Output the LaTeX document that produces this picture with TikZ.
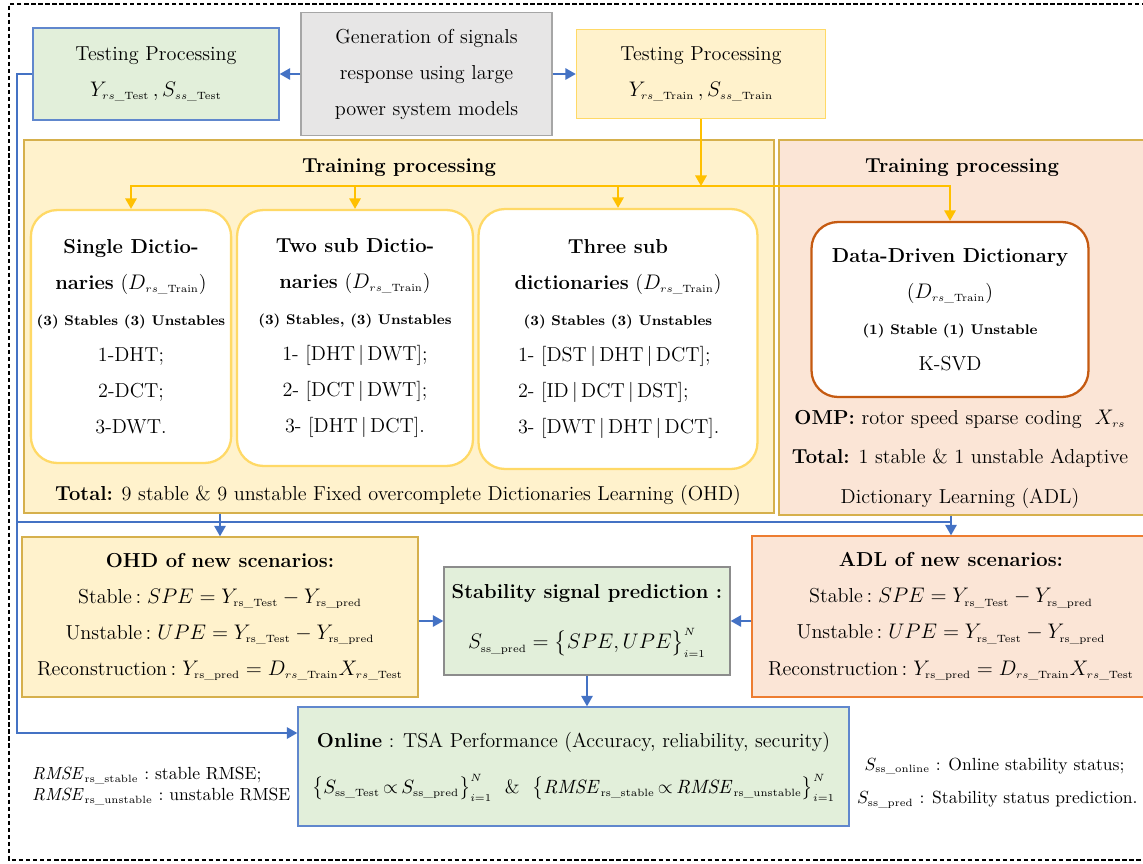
\documentclass[tikz,border=0pt]{standalone}
\usepackage{amsmath}
\usetikzlibrary{arrows.meta,positioning}
\usetikzlibrary{calc}

\definecolor{tsablue}{HTML}{4472C4}
\definecolor{tsagreen}{HTML}{E2EFDA}
\definecolor{srcfill}{HTML}{E7E6E6}
\definecolor{srcgrey}{HTML}{A6A6A6}
\definecolor{stabgrey}{HTML}{8C8C8C}
\definecolor{trainfill}{HTML}{FFF2CC}
\definecolor{trainedge}{HTML}{D6B04C}
\definecolor{testedge}{HTML}{FFD966}
\definecolor{busyellow}{HTML}{FFC000}
\definecolor{adlfill}{HTML}{FBE5D6}
\definecolor{adledge}{HTML}{ED7D31}
\definecolor{dddedge}{HTML}{C55A11}

% small scripts, as in the equation editor
\DeclareMathSizes{11.5}{11.5}{6.5}{5}
\DeclareMathSizes{11}{11}{6.5}{5}
\DeclareMathSizes{10}{10}{6}{5}

\newcommand{\Dtrain}{D_{rs\_\mathrm{Train}}}
\newcommand{\Ytest}{Y_{\mathrm{rs\_Test}}}
\newcommand{\Ypred}{Y_{\mathrm{rs\_pred}}}
\newcommand{\Xtest}{X_{rs\_\mathrm{Test}}}
\newcommand{\rmse}{\mathit{RMSE}}
\newcommand{\dictcount}[1]{{\fontsize{8}{10}\selectfont\bfseries #1}}

\begin{document}
\begin{tikzpicture}[
      x=0.02cm, y=-0.02cm,
      every node/.style={font=\fontsize{11.5}{20.5}\selectfont, align=center},
      flatbox/.style={draw, line width=0.8pt, inner sep=2pt},
      testbox/.style={flatbox, draw=tsablue!85, fill=tsagreen},
      srcbox/.style={flatbox, draw=srcgrey, fill=srcfill},
      trainbox/.style={flatbox, draw=trainedge, fill=trainfill},
      peachbox/.style={flatbox, draw=trainedge, fill=adlfill},
      adlbox/.style={flatbox, draw=adledge, fill=adlfill},
      dictbox/.style={draw=testedge, fill=white, line width=1.3pt, rounded corners=15pt},
      headline/.style={font=\fontsize{11.5}{20.5}\selectfont\bfseries},
      busline/.style={draw=tsablue, line width=1.1pt},
      myarrow/.style={busline, -{Triangle[length=6pt,width=6.5pt]}},
      yarrow/.style={draw=busyellow, line width=1.1pt, -{Triangle[length=6pt,width=6.5pt]}}
      ]
  \clip (0,0) rectangle (1143,863);
  % outer frame, open on the right
  \draw[line width=0.6pt, dash pattern=on 2.5pt off 1.5pt] (1160,4) -- (9,4) -- (9,860) -- (1160,860);

  % signal sources
  \node[srcbox, minimum width=5.02cm, minimum height=2.46cm] (gen) at (426.5,74)
    {Generation of signals\\ response using large\\ power system models};
  \node[testbox, minimum width=4.92cm, minimum height=1.84cm] (testL) at (156,74)
    {Testing Processing\\ $Y_{rs\_\mathrm{Test}}\,,S_{ss\_\mathrm{Test}}$};
  \node[flatbox, draw=testedge, fill=trainfill, minimum width=4.98cm, minimum height=1.78cm] (testR) at (701,74)
    {Testing Processing\\ $Y_{rs\_\mathrm{Train}}\,,S_{ss\_\mathrm{Train}}$};

  % training blocks
  \node[trainbox, minimum width=15cm, minimum height=7.46cm] (trainL) at (399,326.5) {};
  \node[peachbox, minimum width=7.42cm, minimum height=7.5cm] (trainR) at (964.5,327.5) {};
  \node[headline] (titleL) at (399,168) {Training processing};
  \node[headline] (titleR) at (962,168) {Training processing};

  \coordinate (ybus) at (701,186);
  \draw[yarrow] (testR.south) -- (ybus);

  \node[dictbox, minimum width=3.96cm, minimum height=5.06cm] (single) at (131,336.5)
    {\textbf{Single Dictio-}\\ \textbf{naries} ($\Dtrain$)\\ \dictcount{(3) Stables (3) Unstables}\\
     1-DHT;\\ 2-DCT;\\ 3-DWT.};
  \node[dictbox, minimum width=4.72cm, minimum height=5.12cm] (twosub) at (355,338)
    {\textbf{Two sub Dictio-}\\ \textbf{naries} ($\Dtrain$)\\ \dictcount{(3) Stables, (3) Unstables}\\
     1- [DHT\,|\,DWT];\\ 2- [DCT\,|\,DWT];\\ 3- [DHT\,|\,DCT].};
  \node[dictbox, minimum width=5.58cm, minimum height=5.2cm] (threesub) at (618,339)
    {\textbf{Three sub}\\ \textbf{dictionaries} ($\Dtrain$)\\ \dictcount{(3) Stables (3) Unstables}\\
     \makebox[4cm][l]{1- [DST\,|\,DHT\,|\,DCT];}\\
     \makebox[4cm][l]{2- [ID\,|\,DCT\,|\,DST];}\\
     \makebox[4cm][l]{3- [DWT\,|\,DHT\,|\,DCT].}};
  \node[dictbox, draw=dddedge, minimum width=5.54cm, minimum height=3.5cm] (ddd) at (950,309.5)
    {\textbf{Data-Driven Dictionary}\\ ($\Dtrain$)\\ \dictcount{(1) Stable (1) Unstable}\\ K-SVD};

  \foreach \b in {single,twosub,threesub,ddd}
    \draw[yarrow] (ybus) -| (\b.north);

  \node (totalL) at (398,495)
    {\textbf{Total:} 9 stable \& 9 unstable Fixed overcomplete Dictionaries Learning (OHD)};
  \node (ompnote) at (960,459)
    {\textbf{OMP:} rotor speed sparse coding\ \ $X_{rs}$\\[2pt]
     \textbf{Total:} 1 stable \& 1 unstable Adaptive\\[2pt] Dictionary Learning (ADL)};

  % new scenarios
  \node[trainbox, minimum width=7.92cm, minimum height=3.2cm] (ohd) at (220,617)
    {\textbf{OHD of new scenarios:}\\ Stable$\,:SPE=\Ytest-\Ypred$\\
     Unstable$\,:UPE=\Ytest-\Ypred$\\ Reconstruction$\,:\Ypred=\Dtrain\Xtest$};
  \node[adlbox, minimum width=7.96cm, minimum height=3.22cm] (adl) at (951,616.5)
    {\textbf{ADL of new scenarios:}\\ Stable$\,:SPE=\Ytest-\Ypred$\\
     Unstable$\,:UPE=\Ytest-\Ypred$\\ Reconstruction$\,:\Ypred=\Dtrain\Xtest$};
  \node[flatbox, draw=stabgrey, fill=tsagreen, minimum width=5.72cm, minimum height=2.16cm] (stab) at (587,621)
    {\textbf{Stability signal prediction :}\\[8pt]
     $S_{\mathrm{ss\_pred}}=\big\{SPE,UPE\big\}_{i=1}^{N}$};
  \node[testbox, minimum width=11.02cm, minimum height=2.38cm] (online) at (573.5,766.5)
    {\textbf{Online} : TSA Performance (Accuracy, reliability, security)\\[6pt]
     {\fontsize{11}{20}\selectfont
     $\thickmuskip=3mu \big\{S_{\mathrm{ss\_Test}}\propto S_{\mathrm{ss\_pred}}\big\}_{i=1}^{N}$\ \ \&\ \
     $\thickmuskip=3mu \big\{\rmse_{\mathrm{rs\_stable}}\propto \rmse_{\mathrm{rs\_unstable}}\big\}_{i=1}^{N}$}};

  \node[anchor=west, align=left, font=\fontsize{10}{12}\selectfont] (rmsenote) at (26,786)
    {$\rmse_{\mathrm{rs\_stable}}$ :\ stable RMSE;\\ $\rmse_{\mathrm{rs\_unstable}}$ :\ unstable RMSE};
  \node[anchor=west, align=left, font=\fontsize{10}{19}\selectfont] (statusnote) at (851,783)
    {\hspace{0.15cm}$S_{\mathrm{ss\_online}}$\ : Online stability status;\\ $S_{\mathrm{ss\_pred}}$\ : Stability status prediction.};

  % blue connectors
  \coordinate (lbus) at (17,522);
  \draw[busline] (testL.west) -| (lbus) -- (lbus -| adl.north);
  \draw[myarrow] (lbus) |- ([yshift=0.67cm]online.west);
  \draw[myarrow] (gen.west) -- (testL.east);
  \draw[myarrow] (gen.east) -- (testR.west);
  \draw[myarrow] (ohd.north |- trainL.south) -- (ohd.north);
  \draw[myarrow] (adl.north |- trainR.south) -- (adl.north);
  \draw[myarrow] (ohd.east |- stab.west) -- (stab.west);
  \draw[myarrow] (adl.west |- stab.east) -- (stab.east);
  \draw[myarrow] (stab.south) -- (stab.south |- online.north);
\end{tikzpicture}
\end{document}
